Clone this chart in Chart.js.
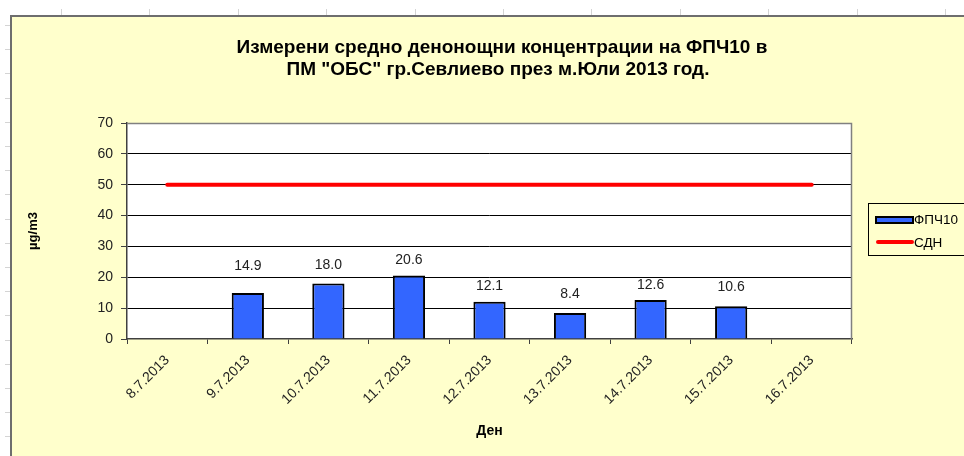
<!DOCTYPE html>
<html><head><meta charset="utf-8">
<script src="https://cdn.jsdelivr.net/npm/chart.js@4"></script>
<style>html,body{margin:0;padding:0;background:#fff;overflow:hidden}</style></head>
<body><canvas id="c" width="964" height="456"></canvas>
<script>
// ---- data ----
const categories = ['8.7.2013','9.7.2013','10.7.2013','11.7.2013','12.7.2013','13.7.2013','14.7.2013','15.7.2013','16.7.2013'];
const pm10Values = [null, 14.9, 18.0, 20.6, 12.1, 8.4, 12.6, 10.6, null];
const limitValues = [50, 50, 50, 50, 50, 50, 50, 50, 50];
const yTickValues = [0, 10, 20, 30, 40, 50, 60, 70];
const seriesNames = ['ФПЧ10', 'СДН'];
const titleLines = ['Измерени средно денонощни концентрации на ФПЧ10 в', 'ПМ "ОБС" гр.Севлиево през м.Юли 2013 год.'];
const xAxisTitle = 'Ден';
const yAxisTitle = 'µg/m3';

// ---- style ----
const FONT = "'Liberation Sans', Arial, sans-serif";
const BG_YELLOW = '#FFFFCC';
const labelLift = [0, 27, 18, 15, 16, 19, 15, 19, 0]; // label distance above bar top (px)

Chart.defaults.font.family = FONT;

const framePlugin = {
  id: 'frame',
  beforeDraw(chart) {
    const ctx = chart.ctx, W = chart.width, H = chart.height;
    ctx.save();
    ctx.fillStyle = '#fff';
    ctx.fillRect(0, 0, W, H);
    // spreadsheet cell ticks around the chart object
    ctx.strokeStyle = '#d4d4d4';
    ctx.lineWidth = 1;
    for (let k = 0; k < 11; k++) {
      const x = Math.round(61 + 88.4 * k) + 0.5;
      ctx.beginPath(); ctx.moveTo(x, 9); ctx.lineTo(x, 15); ctx.stroke();
    }
    for (let k = 0; k < 18; k++) {
      const y = Math.round(25 + 24.2 * k) + 0.5;
      ctx.beginPath(); ctx.moveTo(5, y); ctx.lineTo(10, y); ctx.stroke();
    }
    // chart area
    ctx.fillStyle = BG_YELLOW;
    ctx.fillRect(10, 15, W - 10, H - 15);
    ctx.fillStyle = '#6e6e6e';
    ctx.fillRect(10, 15, W - 10, 2);
    ctx.fillRect(10, 15, 2, H - 15);
    // plot area
    const a = chart.chartArea;
    ctx.fillStyle = '#fff';
    ctx.fillRect(a.left, a.top, a.right - a.left, a.bottom - a.top);
    ctx.restore();
  },
  afterDatasetsDraw(chart) {
    const ctx = chart.ctx, a = chart.chartArea;
    ctx.save();
    ctx.strokeStyle = '#808080';
    ctx.lineWidth = 1.5;
    ctx.beginPath();
    ctx.moveTo(a.left, a.top + 0.5);
    ctx.lineTo(a.right - 0.5, a.top + 0.5);
    ctx.lineTo(a.right - 0.5, a.bottom);
    ctx.stroke();
    // data labels
    const meta = chart.getDatasetMeta(0);
    ctx.fillStyle = '#222';
    ctx.font = '14px ' + FONT;
    ctx.textAlign = 'center';
    ctx.textBaseline = 'middle';
    meta.data.forEach((el, i) => {
      const v = chart.data.datasets[0].data[i];
      if (v === null || v === undefined) return;
      ctx.fillText(v.toFixed(1), el.x, el.y - labelLift[i]);
    });
    ctx.restore();
  },
  afterDraw(chart) {
    const ctx = chart.ctx;
    ctx.save();
    // title
    ctx.fillStyle = '#000';
    ctx.font = 'bold 19px ' + FONT;
    ctx.textAlign = 'center';
    ctx.textBaseline = 'middle';
    ctx.fillText(titleLines[0], 502, 48);
    ctx.fillText(titleLines[1], 498, 70);
    // legend
    ctx.strokeStyle = '#000';
    ctx.lineWidth = 1;
    ctx.strokeRect(868.5, 203.5, 120, 52);
    const ds = chart.data.datasets;
    ctx.fillStyle = ds[0].backgroundColor;
    ctx.fillRect(876, 217, 37, 6);
    ctx.lineWidth = 2;
    ctx.strokeRect(876, 217, 37, 6);
    ctx.strokeStyle = ds[1].borderColor;
    ctx.lineWidth = 4;
    ctx.lineCap = 'round';
    ctx.beginPath(); ctx.moveTo(878, 242); ctx.lineTo(912, 242); ctx.stroke();
    ctx.fillStyle = '#000';
    ctx.font = '13.5px ' + FONT;
    ctx.textAlign = 'left';
    ctx.fillText(ds[0].label, 914, 220);
    ctx.fillText(ds[1].label, 914, 243);
    ctx.restore();
  }
};

new Chart(document.getElementById('c'), {
  data: {
    labels: categories,
    datasets: [
      {
        type: 'bar', label: seriesNames[0], data: pm10Values,
        backgroundColor: '#3366FF', borderColor: '#000', borderWidth: 2,
        categoryPercentage: 0.4, barPercentage: 1.0, order: 2
      },
      {
        type: 'line', label: seriesNames[1], data: limitValues,
        borderColor: '#FF0000', borderWidth: 4, pointRadius: 0,
        borderCapStyle: 'round', fill: false, tension: 0, order: 1
      }
    ]
  },
  options: {
    responsive: false,
    animation: false,
    devicePixelRatio: 1,
    layout: { padding: { left: 0, top: 123, right: 112, bottom: 0 } },
    plugins: { legend: { display: false }, title: { display: false }, tooltip: { enabled: false } },
    scales: {
      x: {
        offset: true,
        afterFit(s) { s.height = 117; },
        grid: { offset: true, drawOnChartArea: false, drawTicks: true, tickLength: 5, color: '#404040' },
        border: { color: '#404040', width: 1.5 },
        ticks: { autoSkip: false, minRotation: 45, maxRotation: 45, padding: 8, color: '#222', font: { size: 14 } },
        title: { display: true, text: xAxisTitle, color: '#000', font: { size: 14, weight: 'bold' }, padding: { top: 0, bottom: 16 } }
      },
      y: {
        min: 0, max: 70,
        afterFit(s) { s.width = 127; },
        afterBuildTicks(s) { s.ticks = yTickValues.map(v => ({ value: v })); },
        grid: {
          color: c => (c.tick && (c.tick.value === 0)) ? 'rgba(0,0,0,0)' : (c.tick && c.tick.value === 70 ? '#808080' : '#000'),
          tickColor: '#404040', tickLength: 6, lineWidth: 1
        },
        border: { color: '#404040', width: 1.5 },
        ticks: { padding: 8, color: '#222', font: { size: 14 } },
        title: { display: true, text: yAxisTitle, color: '#000', font: { size: 13, weight: 'bold' }, padding: { top: 26 } }
      }
    }
  },
  plugins: [framePlugin]
});
</script>
</body></html>
